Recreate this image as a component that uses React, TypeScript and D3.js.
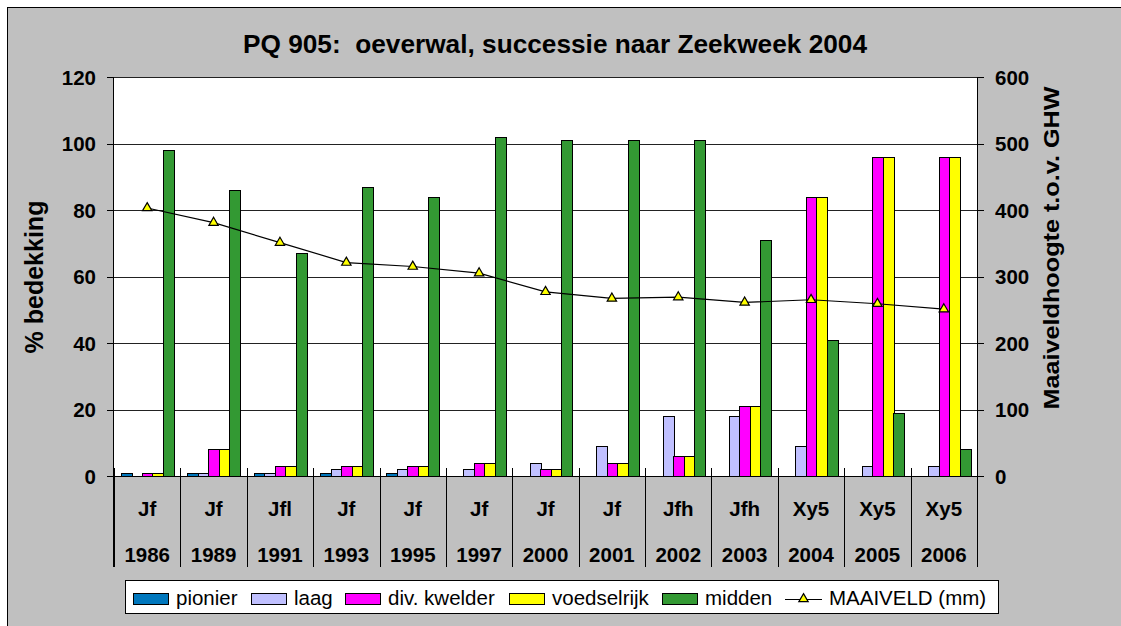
import React from 'react';
import * as d3 from 'd3';

const years = ['1986', '1989', '1991', '1993', '1995', '1997', '2000', '2001', '2002', '2003', '2004', '2005', '2006'];
const types = ['Jf', 'Jf', 'Jfl', 'Jf', 'Jf', 'Jf', 'Jf', 'Jf', 'Jfh', 'Jfh', 'Xy5', 'Xy5', 'Xy5'];
const pionier = [1, 1, 1, 1, 1, 0, 0, 0, 0, 0, 0, 0, 0];
const laag = [0, 1, 1, 2, 2, 2, 4, 9, 18, 18, 9, 3, 3];
const kwelder = [1, 8, 3, 3, 3, 4, 2, 4, 6, 21, 84, 96, 96];
const voedselrijk = [1, 8, 3, 3, 3, 4, 2, 4, 6, 21, 84, 96, 96];
const midden = [98, 86, 67, 87, 84, 102, 101, 101, 101, 71, 41, 19, 8];
const maaiveld = [403, 381, 351, 321, 315, 305, 277, 267, 269, 261, 265, 259, 251];
const leftTicks = [0, 20, 40, 60, 80, 100, 120];
const rightTicks = [0, 100, 200, 300, 400, 500, 600];

const seriesNames = ['pionier', 'laag', 'div. kwelder', 'voedselrijk', 'midden'];
const seriesValues = [pionier, laag, kwelder, voedselrijk, midden];
const seriesColors = ['#0077BD', '#C0C0FF', '#FF00FF', '#FFFF00', '#339933'];
const lineName = 'MAAIVELD (mm)';

const title = 'PQ 905:  oeverwal, successie naar Zeekweek 2004';
const leftTitle = '% bedekking';
const rightTitle = 'Maaiveldhoogte t.o.v. GHW';

// layout
const W = 1121, H = 626;
const PL = 114, PR = 977, PT = 77, PB = 476;
const FONT = '"Liberation Sans", Arial, sans-serif';
const legendSwatchX = [133, 251, 345, 509, 662];
const legendLineX = 785;

export default function App() {
  const idx = years.map((_, i) => i);
  const x = d3.scaleBand<number>().domain(idx).range([PL, PR]).paddingInner(0).paddingOuter(0);
  const xs = d3.scaleBand<number>().domain(seriesNames.map((_, i) => i)).range([0, x.bandwidth()]).paddingInner(0).paddingOuter(0.66);
  const yL = d3.scaleLinear().domain([0, 120]).range([PB, PT]);
  const yR = d3.scaleLinear().domain([0, 600]).range([PB, PT]);
  const line = d3.line<number>().x((_, i) => (x(i) as number) + x.bandwidth() / 2).y(d => yR(d));
  const tri = d3.symbol(d3.symbolTriangle, 38)() as string;
  const bounds = idx.map(i => x(i) as number).concat([PR]);

  return (
    <div style={{ position: 'absolute', left: 0, top: 0 }}>
      <svg width={W} height={H} style={{ display: 'block', fontFamily: FONT }}>
        <rect x={0} y={0} width={W} height={H} fill="#fff" />
        <rect x={7.5} y={7.5} width={W + 10} height={H + 10} fill="#C0C0C0" stroke="#000" strokeWidth={1} />
        <text x={555} y={53} textAnchor="middle" fontSize={26} fontWeight="bold" style={{ whiteSpace: 'pre' }}
          textLength={624} lengthAdjust="spacingAndGlyphs">{title}</text>

        {/* plot area */}
        <rect x={PL} y={PT} width={PR - PL} height={PB - PT} fill="#fff" />
        {leftTicks.map(t => (
          <line key={'g' + t} x1={PL} x2={PR} y1={Math.round(yL(t)) + 0.5} y2={Math.round(yL(t)) + 0.5} stroke="#222" strokeWidth={1} />
        ))}

        {/* bars */}
        {seriesValues.map((vals, s) =>
          vals.map((v, i) =>
            v > 0 ? (
              <rect key={s + '-' + i}
                x={Math.round((x(i) as number) + (xs(s) as number)) + 0.5}
                y={Math.round(yL(v)) + 0.5}
                width={Math.round(xs.bandwidth())}
                height={Math.round(yL(0)) - Math.round(yL(v))}
                fill={seriesColors[s]} stroke="#000" strokeWidth={1} />
            ) : null
          )
        )}

        {/* line */}
        <path d={line(maaiveld) as string} fill="none" stroke="#000" strokeWidth={1.2} />
        {maaiveld.map((v, i) => (
          <path key={'m' + i} d={tri} transform={`translate(${(x(i) as number) + x.bandwidth() / 2},${yR(v)})`} fill="#FFFF00" stroke="#000" strokeWidth={1.2} />
        ))}

        {/* axes */}
        <line x1={PL - 0.5} x2={PL - 0.5} y1={PT} y2={567} stroke="#000" />
        <line x1={PR + 0.5} x2={PR + 0.5} y1={PT} y2={567} stroke="#000" />
        <line x1={PL} x2={PR} y1={PB + 0.5} y2={PB + 0.5} stroke="#000" />
        {bounds.map((b, i) => (
          <line key={'b' + i} x1={Math.round(b) + 0.5} x2={Math.round(b) + 0.5} y1={468} y2={567} stroke="#000" />
        ))}
        {leftTicks.map(t => (
          <g key={'lt' + t}>
            <line x1={107} x2={PL} y1={Math.round(yL(t)) + 0.5} y2={Math.round(yL(t)) + 0.5} stroke="#000" />
            <text x={96} y={yL(t) + 7.5} textAnchor="end" fontSize={20.5} fontWeight="bold">{t}</text>
          </g>
        ))}
        {rightTicks.map(t => (
          <g key={'rt' + t}>
            <line x1={PR} x2={984} y1={Math.round(yR(t)) + 0.5} y2={Math.round(yR(t)) + 0.5} stroke="#000" />
            <text x={995} y={yR(t) + 7.5} textAnchor="start" fontSize={20.5} fontWeight="bold">{t}</text>
          </g>
        ))}
        {idx.map(i => (
          <g key={'c' + i}>
            <text x={(x(i) as number) + x.bandwidth() / 2} y={516} textAnchor="middle" fontSize={20.5} fontWeight="bold">{types[i]}</text>
            <text x={(x(i) as number) + x.bandwidth() / 2} y={561.5} textAnchor="middle" fontSize={20.5} fontWeight="bold">{years[i]}</text>
          </g>
        ))}

        <text transform={`translate(43,277) rotate(-90)`} textAnchor="middle" fontSize={25} fontWeight="bold">{leftTitle}</text>
        <text transform={`translate(1059,248) rotate(-90)`} textAnchor="middle" fontSize={22} fontWeight="bold"
          textLength={323} lengthAdjust="spacingAndGlyphs">{rightTitle}</text>

        {/* legend */}
        <rect x={125.5} y={580.5} width={873} height={33} fill="#fff" stroke="#000" />
        {seriesNames.map((n, s) => (
          <g key={'l' + s}>
            <rect x={legendSwatchX[s] + 0.5} y={593.5} width={35} height={11} fill={seriesColors[s]} stroke="#000" />
            <text x={legendSwatchX[s] + 43} y={604.5} fontSize={20.5}>{n}</text>
          </g>
        ))}
        <line x1={legendLineX} x2={legendLineX + 37} y1={599.5} y2={599.5} stroke="#000" />
        <path d={tri} transform={`translate(${legendLineX + 18.5},599)`} fill="#FFFF00" stroke="#000" strokeWidth={1.2} />
        <text x={legendLineX + 44} y={604.5} fontSize={20.5}>{lineName}</text>
      </svg>
    </div>
  );
}
